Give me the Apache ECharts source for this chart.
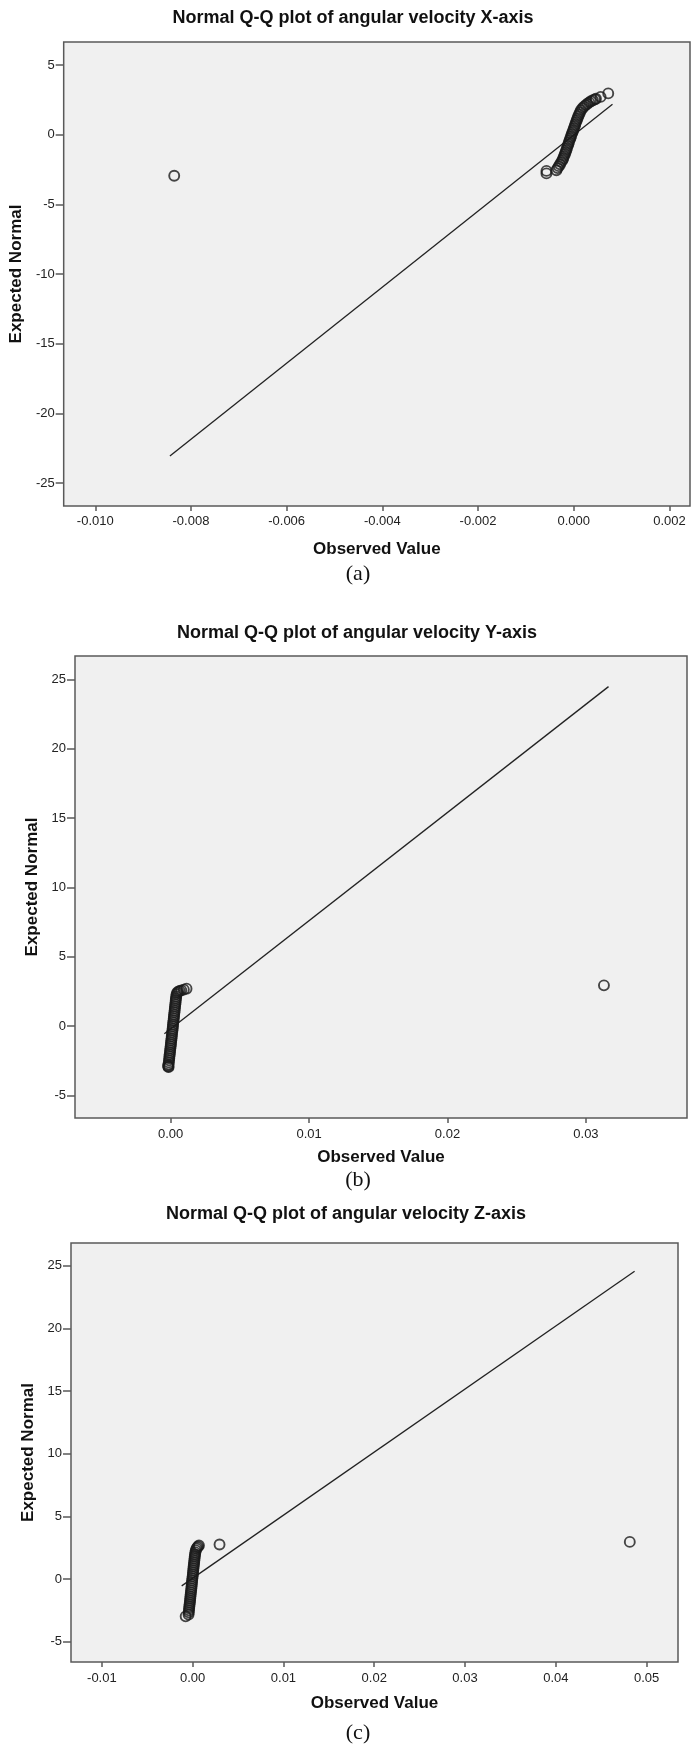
<!DOCTYPE html>
<html>
<head>
<meta charset="utf-8">
<script src="https://cdn.jsdelivr.net/npm/echarts@6/dist/echarts.min.js"></script>
<style>
  html, body { margin: 0; padding: 0; background: #fff; }
  #chart { width: 692px; height: 1750px; }
</style>
</head>
<body>
<div id="chart"></div>
<script>
const qqX = [
  [-0.00835, -2.95], [-0.00057, -2.78], [-0.00057, -2.60],
  [-0.000362, -2.55], [-0.000336, -2.40], [-0.000311, -2.26], [-0.000286, -2.12],
  [-0.000261, -1.97], [-0.000236, -1.83], [-0.000219, -1.69], [-0.000203, -1.54],
  [-0.000186, -1.40], [-0.000171, -1.26], [-0.000157, -1.11], [-0.000142, -0.97],
  [-0.000127, -0.82], [-0.000115, -0.68], [-0.000100, -0.54], [-0.000086, -0.39],
  [-0.000071, -0.25], [-0.000056, -0.11], [-0.000042, 0.04], [-0.000027, 0.18],
  [-0.000010, 0.32], [0.000004, 0.47], [0.000019, 0.61], [0.000033, 0.75],
  [0.000048, 0.90], [0.000063, 1.04], [0.000079, 1.18], [0.000094, 1.33],
  [0.000113, 1.47], [0.000132, 1.61], [0.000150, 1.76], [0.000182, 1.90],
  [0.000213, 2.01], [0.000249, 2.12], [0.000286, 2.22], [0.000324, 2.32],
  [0.000359, 2.40], [0.000401, 2.47], [0.000443, 2.53], [0.000464, 2.58],
  [0.000562, 2.71], [0.000721, 2.96]
];
const qqY = [
  [-0.000151, -2.96], [-0.000180, -2.84], [-0.000166, -2.91], [-0.000151, -2.76],
  [-0.000137, -2.62], [-0.000115, -2.47], [-0.000101, -2.33], [-0.000087, -2.18],
  [-0.000072, -2.04], [-0.000050, -1.90], [-0.000036, -1.75], [-0.000022, -1.61],
  [0.000000, -1.46], [0.000014, -1.32], [0.000029, -1.18], [0.000043, -1.03],
  [0.000065, -0.89], [0.000079, -0.74], [0.000094, -0.60], [0.000108, -0.45],
  [0.000130, -0.31], [0.000144, -0.17], [0.000159, -0.02], [0.000173, 0.12],
  [0.000187, 0.27], [0.000209, 0.41], [0.000224, 0.56], [0.000238, 0.70],
  [0.000252, 0.84], [0.000274, 0.99], [0.000288, 1.13], [0.000303, 1.28],
  [0.000317, 1.42], [0.000339, 1.57], [0.000353, 1.71], [0.000368, 1.86],
  [0.000382, 2.00], [0.000404, 2.14], [0.000425, 2.29], [0.000469, 2.40],
  [0.000541, 2.48], [0.000649, 2.54], [0.000771, 2.58], [0.000952, 2.63],
  [0.001146, 2.70], [0.0313, 2.94]
];
const qqZ = [
  [-0.000771, -2.98], [-0.000452, -2.83], [-0.000430, -2.66], [-0.000408, -2.50],
  [-0.000386, -2.34], [-0.000364, -2.19], [-0.000342, -2.03], [-0.000309, -1.87],
  [-0.000287, -1.71], [-0.000265, -1.55], [-0.000242, -1.39], [-0.000220, -1.23],
  [-0.000198, -1.07], [-0.000165, -0.91], [-0.000143, -0.75], [-0.000121, -0.59],
  [-0.000099, -0.43], [-0.000077, -0.27], [-0.000055, -0.11], [-0.000033, 0.05],
  [0.000000, 0.21], [0.000022, 0.37], [0.000044, 0.53], [0.000066, 0.69],
  [0.000088, 0.85], [0.000110, 1.01], [0.000132, 1.16], [0.000165, 1.32],
  [0.000187, 1.48], [0.000209, 1.64], [0.000231, 1.80], [0.000264, 1.96],
  [0.000298, 2.12], [0.000342, 2.28], [0.000419, 2.42], [0.000507, 2.52],
  [0.000606, 2.60], [0.000694, 2.68], [0.00296, 2.75], [0.04815, 2.96]
];

// reference lines (end points)
const lineX = [[-0.00844, -23.06], [0.00081, 2.19]];
const lineY = [[-0.000454, -0.56], [0.03163, 24.49]];
const lineZ = [[-0.00121, -0.55], [0.04868, 24.54]];

// tick labels
const xTicksX = [-0.010, -0.008, -0.006, -0.004, -0.002, 0.000, 0.002];
const yTicksX = [5, 0, -5, -10, -15, -20, -25];
const xTicksY = [0.00, 0.01, 0.02, 0.03];
const yTicksY = [25, 20, 15, 10, 5, 0, -5];
const xTicksZ = [-0.01, 0.00, 0.01, 0.02, 0.03, 0.04, 0.05];
const yTicksZ = [25, 20, 15, 10, 5, 0, -5];

const titles = [
  'Normal Q-Q plot of angular velocity X-axis',
  'Normal Q-Q plot of angular velocity Y-axis',
  'Normal Q-Q plot of angular velocity Z-axis'
];
const captions = ['(a)', '(b)', '(c)'];

const sans = '"Liberation Sans", Arial, sans-serif';
const serif = '"Liberation Serif", "Times New Roman", serif';
const axisCol = '#595959';

function xAxisOf(idx, min, max, ticks, digits, labelMargin, nameGap) {
  return {
    gridIndex: idx, type: 'value', min: min, max: max,
    name: 'Observed Value', nameLocation: 'middle', nameGap: nameGap,
    nameTextStyle: { fontFamily: sans, fontSize: 17, fontWeight: 'bold', color: '#111' },
    axisLine: { show: false, onZero: false },
    axisTick: { show: true, inside: false, length: 5, customValues: ticks,
      lineStyle: { color: axisCol, width: 1.5 } },
    axisLabel: { customValues: ticks, margin: labelMargin, fontFamily: sans, fontSize: 13, color: '#222',
      formatter: v => v.toFixed(digits) },
    splitLine: { show: false }
  };
}

function yAxisOf(idx, min, max, ticks, nameGap) {
  return {
    gridIndex: idx, type: 'value', min: min, max: max,
    name: 'Expected Normal', nameLocation: 'middle', nameGap: nameGap,
    nameTextStyle: { fontFamily: sans, fontSize: 17, fontWeight: 'bold', color: '#111' },
    axisLine: { show: false, onZero: false },
    axisTick: { show: true, inside: false, length: 8, customValues: ticks,
      lineStyle: { color: axisCol, width: 1.5 } },
    axisLabel: { customValues: ticks, margin: 9, fontFamily: sans, fontSize: 13, color: '#222',
      formatter: v => String(v) },
    splitLine: { show: false }
  };
}

function scatterOf(idx, data) {
  return {
    type: 'scatter', xAxisIndex: idx, yAxisIndex: idx, data: data,
    symbol: 'circle', symbolSize: 10,
    itemStyle: { color: 'transparent', borderColor: '#1a1a1a', borderWidth: 1.9 },
    z: 3
  };
}

function lineOf(idx, data) {
  return {
    type: 'line', xAxisIndex: idx, yAxisIndex: idx, data: data,
    symbol: 'none', lineStyle: { color: '#222', width: 1.3 }, z: 2
  };
}

function titleOf(text, x, y, font, size, weight) {
  return { text: text, left: x, top: y, textAlign: 'center', padding: 0,
    textStyle: { fontFamily: font, fontSize: size, fontWeight: weight, color: '#111' } };
}

const gridStyle = { show: true, backgroundColor: '#f0f0f0', borderColor: axisCol, borderWidth: 1.5 };

const chart = echarts.init(document.getElementById('chart'), null, { renderer: 'canvas' });

chart.setOption({
  animation: false,
  backgroundColor: '#fff',
  title: [
    titleOf(titles[0], 353, 9, sans, 18, 'bold'),
    titleOf(titles[1], 357, 624, sans, 18, 'bold'),
    titleOf(titles[2], 346, 1205, sans, 18, 'bold'),
    titleOf(captions[0], 358, 563, serif, 22, 'normal'),
    titleOf(captions[1], 358, 1169, serif, 22, 'normal'),
    titleOf(captions[2], 358, 1722, serif, 22, 'normal')
  ],
  grid: [
    Object.assign({ left: 63, top: 42, width: 627, height: 464 }, gridStyle),
    Object.assign({ left: 75, top: 656, width: 612, height: 462 }, gridStyle),
    Object.assign({ left: 71, top: 1243, width: 607, height: 419 }, gridStyle)
  ],
  xAxis: [
    xAxisOf(0, -0.01066, 0.00243, xTicksX, 3, 9, 35),
    xAxisOf(1, -0.00691, 0.0373, xTicksY, 2, 10, 31),
    xAxisOf(2, -0.0134, 0.05346, xTicksZ, 2, 10, 33)
  ],
  yAxis: [
    yAxisOf(0, -26.65, 6.65, yTicksX, 34),
    yAxisOf(1, -6.63, 26.7, yTicksY, 27),
    yAxisOf(2, -6.62, 26.8, yTicksZ, 25)
  ],
  series: [
    lineOf(0, lineX), scatterOf(0, qqX),
    lineOf(1, lineY), scatterOf(1, qqY),
    lineOf(2, lineZ), scatterOf(2, qqZ)
  ]
});
</script>
</body>
</html>
